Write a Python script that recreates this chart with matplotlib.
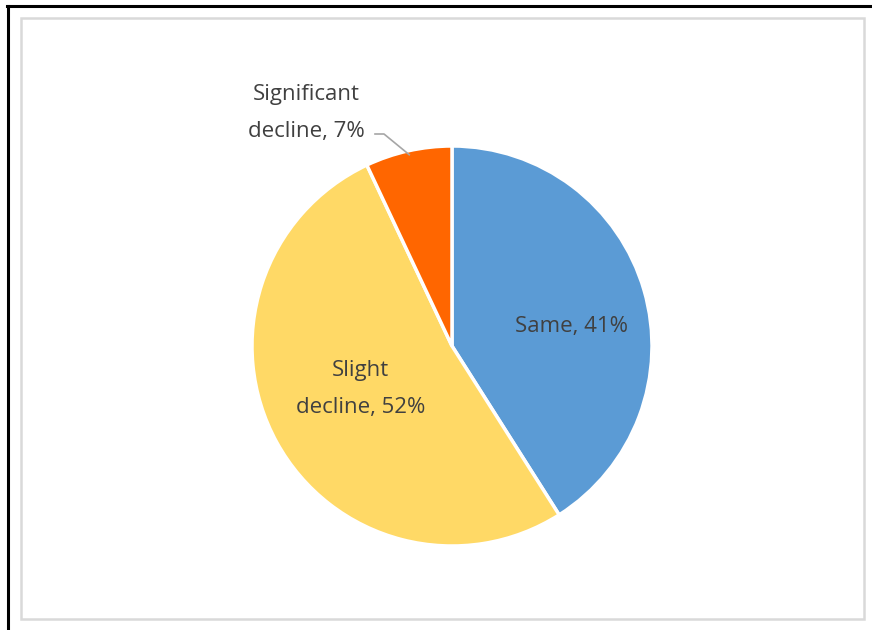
import matplotlib.pyplot as plt
from matplotlib.patches import Rectangle
from matplotlib.lines import Line2D
import numpy as np

categories = ["Same", "Slight\ndecline", "Significant\ndecline"]
values = [41, 52, 7]
colors = ["#5B9BD5", "#FFD966", "#FF6600"]

fig = plt.figure(figsize=(8.72, 6.30), dpi=100)
W, H = 872, 630

# frame lines and chart-area border (pixel coords)
fig.add_artist(Line2D([7 / W, 1], [1 - 6 / H, 1 - 6 / H], color="black", lw=2.2))
fig.add_artist(Line2D([7.5 / W, 7.5 / W], [0, 1 - 6 / H], color="black", lw=2.2))
fig.add_artist(Rectangle((21 / W, 1 - 619 / H), (864 - 21) / W, (619 - 18) / H,
                         fill=False, edgecolor="#D9D9D9", lw=1.8))

cx, cy, r = 452, 346, 200
ax = fig.add_axes([(cx - r) / W, (H - cy - r) / H, 2 * r / W, 2 * r / H])
wedges, _ = ax.pie(values, colors=colors, startangle=90, counterclock=False,
                   wedgeprops=dict(edgecolor="white", linewidth=2.5))
ax.set_xlim(-1, 1)
ax.set_ylim(-1, 1)
ax.set_aspect("equal")
ax.axis("off")

txt = dict(fontsize=16, color="#404040", family="Open Sans", ha="center", va="center",
           linespacing=2.0)

total = sum(values)
cum = np.cumsum([0] + values)
dists = [0.62, 0.52, None]
yoff = [-0.075, 0.035, 0]
for i, (cat, v) in enumerate(zip(categories, values)):
    mid = (cum[i] + v / 2) / total * 2 * np.pi
    dx, dy = np.sin(mid), np.cos(mid)
    label = f"{cat}, {v}%"
    if dists[i] is not None:
        ax.text(dx * dists[i], dy * dists[i] + yoff[i], label, **txt)
    else:
        ax.text(-0.73, 1.165, label, clip_on=False, **txt)
        ax.plot([-0.385, -0.34, dx * 0.98], [1.06, 1.06, dy * 0.98],
                color="#A6A6A6", lw=1.2, clip_on=False)

fig.savefig("out.png", dpi=100)
